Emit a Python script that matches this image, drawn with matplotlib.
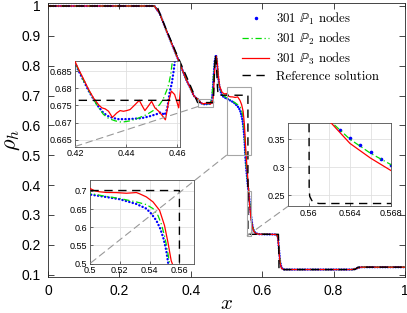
import matplotlib
matplotlib.use('Agg')
import matplotlib.pyplot as plt
from matplotlib.patches import Rectangle, ConnectionPatch
from matplotlib.lines import Line2D
from matplotlib.ticker import FormatStrFormatter

plt.rcParams['font.family'] = ['Liberation Sans', 'DejaVu Sans']
plt.rcParams['mathtext.fontset'] = 'cm'

# ---------------- data ----------------
ref_x = [0.0, 0.305, 0.33, 0.36, 0.39, 0.419, 0.4635, 0.4655, 0.4685, 0.4715, 0.4745,
         0.4765, 0.56, 0.56005, 0.5601, 0.5603, 0.5606, 0.561, 0.6455, 0.6465, 0.647,
         0.86, 0.864, 0.868, 1.0]
ref_y = [1.0, 1.0, 0.925, 0.84, 0.758, 0.6765, 0.6765, 0.76, 0.835, 0.81, 0.73,
         0.701, 0.701, 0.26, 0.248, 0.2405, 0.2365, 0.235, 0.235, 0.18, 0.117,
         0.117, 0.121, 0.125, 0.125]

p3_x = [0.0, 0.298, 0.3126, 0.331, 0.35, 0.369, 0.3875, 0.40, 0.408, 0.414,
        0.42, 0.4214, 0.4234, 0.4253, 0.4272, 0.4292, 0.4305, 0.4318, 0.4331, 0.4346,
        0.4363, 0.4376, 0.4389, 0.4402, 0.4415, 0.4434, 0.4451, 0.4463, 0.4473, 0.4486,
        0.4499, 0.4512, 0.4527, 0.4540, 0.4553, 0.4566, 0.4576, 0.4589, 0.4605,
        0.4625, 0.465, 0.468, 0.4712, 0.474, 0.477, 0.481, 0.488, 0.495,
        0.5, 0.5032, 0.5066, 0.511, 0.5177, 0.5244, 0.528, 0.5311, 0.5333, 0.5378,
        0.5423, 0.5467, 0.55, 0.5523, 0.5545, 0.5552, 0.557, 0.559, 0.5605, 0.5622,
        0.564, 0.566, 0.568, 0.572, 0.576, 0.581, 0.59, 0.64, 0.644, 0.647, 0.65,
        0.654, 0.66, 0.853, 0.865, 0.876, 1.0]
p3_y = [1.0, 1.0, 0.9756, 0.9197, 0.864, 0.808, 0.7525, 0.722, 0.70, 0.6925,
        0.6879, 0.6856, 0.6826, 0.6797, 0.6772, 0.6752, 0.6743, 0.6740, 0.6733, 0.6715,
        0.6728, 0.6735, 0.6733, 0.6735, 0.6738, 0.6752, 0.6765, 0.6748, 0.6735, 0.6748,
        0.6762, 0.6743, 0.6733, 0.6721, 0.6708, 0.6762, 0.6792, 0.6782, 0.6743,
        0.69, 0.74, 0.805, 0.832, 0.81, 0.765, 0.73, 0.71, 0.705,
        0.7068, 0.700, 0.6974, 0.6957, 0.6953, 0.6935, 0.6945, 0.6955, 0.692, 0.6835,
        0.6696, 0.6465, 0.6048, 0.5584, 0.5075, 0.50, 0.466, 0.432, 0.405, 0.379,
        0.3428, 0.3163, 0.2938, 0.262, 0.246, 0.2385, 0.2355, 0.2345, 0.225, 0.18, 0.14,
        0.121, 0.117, 0.117, 0.121, 0.125, 0.125]

p2_x = [0.0, 0.298, 0.3126, 0.331, 0.35, 0.369, 0.3875, 0.40, 0.408, 0.414,
        0.42, 0.4234, 0.4272, 0.4292, 0.4311, 0.4331, 0.4357, 0.4382, 0.4415, 0.4447,
        0.4479, 0.4512, 0.4531, 0.4544, 0.4557, 0.4566, 0.4574, 0.4579, 0.4581,
        0.4595, 0.462, 0.465, 0.468, 0.4712, 0.474, 0.477, 0.481, 0.488, 0.495,
        0.5, 0.5088, 0.52, 0.5311, 0.5378, 0.5423, 0.5456, 0.5478, 0.55, 0.5518, 0.5534,
        0.556, 0.559, 0.5622, 0.564, 0.566, 0.568, 0.572, 0.576, 0.581, 0.59, 0.64,
        0.644, 0.647, 0.65, 0.654, 0.66, 0.853, 0.865, 0.876, 1.0]
p2_y = [1.0, 1.0, 0.9756, 0.9197, 0.864, 0.808, 0.7525, 0.722, 0.70, 0.6925,
        0.6876, 0.6822, 0.6768, 0.6744, 0.6724, 0.6712, 0.6705, 0.6701, 0.6705, 0.6713,
        0.6723, 0.6738, 0.6753, 0.6768, 0.6792, 0.6812, 0.6842, 0.6872, 0.6887,
        0.70, 0.735, 0.785, 0.82, 0.834, 0.805, 0.76, 0.725, 0.703, 0.697,
        0.6929, 0.6863, 0.679, 0.6696, 0.6623, 0.6512, 0.6326, 0.6095, 0.577, 0.540, 0.50,
        0.455, 0.415, 0.381, 0.3503, 0.325, 0.3044, 0.268, 0.248, 0.239, 0.2355, 0.2345,
        0.226, 0.185, 0.145, 0.123, 0.117, 0.117, 0.121, 0.125, 0.125]

p1_x = [0.0, 0.298, 0.3126, 0.331, 0.35, 0.369, 0.3875, 0.40, 0.408, 0.414,
        0.42, 0.4214, 0.4234, 0.4253, 0.4272, 0.4292, 0.4311, 0.4331, 0.435, 0.437,
        0.440, 0.443, 0.446, 0.449, 0.452, 0.4535, 0.455, 0.456, 0.457, 0.4578,
        0.4585, 0.459, 0.461, 0.464, 0.467, 0.4705, 0.473, 0.476, 0.48, 0.487, 0.495,
        0.5, 0.5088, 0.52, 0.5311, 0.5378, 0.5411, 0.5445, 0.5472, 0.5494, 0.5512,
        0.5525, 0.555, 0.558, 0.5605, 0.563, 0.564, 0.565, 0.566, 0.567, 0.568,
        0.572, 0.576, 0.581, 0.59, 0.64, 0.644, 0.647, 0.65, 0.654, 0.66, 0.853,
        0.865, 0.876, 1.0]
p1_y = [1.0, 1.0, 0.9756, 0.9197, 0.864, 0.808, 0.7525, 0.722, 0.70, 0.6925,
        0.6873, 0.6851, 0.6822, 0.6793, 0.6769, 0.6746, 0.6728, 0.6718, 0.6713, 0.6710,
        0.6710, 0.6711, 0.6713, 0.6718, 0.6725, 0.6730, 0.6722, 0.6740, 0.6790, 0.6815,
        0.685, 0.688, 0.705, 0.765, 0.815, 0.836, 0.818, 0.77, 0.73, 0.70, 0.693,
        0.690, 0.6845, 0.677, 0.664, 0.6512, 0.6373, 0.6187, 0.5956, 0.5678, 0.5353,
        0.50, 0.46, 0.42, 0.39, 0.3663, 0.3528, 0.3397, 0.3269, 0.315, 0.3044,
        0.268, 0.248, 0.239, 0.2355, 0.2345, 0.226, 0.185, 0.145, 0.123, 0.117, 0.117,
        0.121, 0.125, 0.125]

labels = [r'301 $\mathbb{P}_1$ nodes', r'301 $\mathbb{P}_2$ nodes',
          r'301 $\mathbb{P}_3$ nodes', 'Reference solution']

# zoom windows: (x0, x1, y0, y1)
zoom1 = (0.42, 0.461, 0.663, 0.688)
zoom2 = (0.5, 0.57, 0.5, 0.73)
zoom3 = (0.558, 0.568, 0.23, 0.38)

# ---------------- styles ----------------
C1, C2, C3 = '#0000ff', '#00dd00', '#ff0000'
LS2 = (0, (5, 2.2, 1, 2.2))
LSR = (0, (6, 4))

W, H = 407, 313
fig = plt.figure(figsize=(W / 100, H / 100), dpi=100)


def frame(l, t, r, b):
    return [l / W, 1 - b / H, (r - l) / W, (b - t) / H]


ax = fig.add_axes(frame(48, 3, 405, 277))


def draw(a, lwscale=1.0, dot=(0, (0.1, 1.0)), p1_markers=False):
    if p1_markers:
        a.plot(p1_x, p1_y, ls='none', marker='.', ms=3.2, color=C1, zorder=2)
    else:
        a.plot(p1_x, p1_y, color=C1, lw=1.7, ls=dot, dash_capstyle='round', zorder=2)
    a.plot(p2_x, p2_y, color=C2, lw=0.9 * lwscale, ls=LS2, zorder=3)
    a.plot(p3_x, p3_y, color=C3, lw=0.9 * lwscale, zorder=4)
    a.plot(ref_x, ref_y, color='k', lw=1.0 * lwscale, ls=LSR, zorder=5)


draw(ax)
ax.set_xlim(0, 1)
ax.set_ylim(0.092, 1.01)
ax.set_xticks([0, 0.2, 0.4, 0.6, 0.8, 1])
ax.set_yticks([0.1, 0.2, 0.3, 0.4, 0.5, 0.6, 0.7, 0.8, 0.9, 1.0])
ax.xaxis.set_major_formatter(FormatStrFormatter('%g'))
ax.yaxis.set_major_formatter(FormatStrFormatter('%g'))
ax.tick_params(direction='in', top=True, right=True, length=4, width=0.6,
               labelsize=10, color='0.15', pad=5)
for s in ax.spines.values():
    s.set_color('0.15')
    s.set_linewidth(0.6)
ax.set_xlabel(r'$x$', fontsize=15, labelpad=-3)
ax.set_ylabel(r'$\rho_h$', fontsize=16, labelpad=0)

for z in (zoom1, zoom2, zoom3):
    ax.add_patch(Rectangle((z[0], z[2]), z[1] - z[0], z[3] - z[2], fill=False,
                           edgecolor='0.65', lw=0.8, zorder=6))

handles = [Line2D([], [], ls='none', marker='.', ms=3, color=C1),
           Line2D([], [], color=C2, lw=0.9, ls=LS2),
           Line2D([], [], color=C3, lw=0.9),
           Line2D([], [], color='k', lw=1.0, ls=LSR)]
leg = ax.legend(handles, labels, loc='upper left', frameon=False,
                bbox_to_anchor=(242 / W, 1 - 11 / H), bbox_transform=fig.transFigure,
                borderaxespad=0, borderpad=0, handlelength=2.1, handletextpad=0.55,
                labelspacing=0.28, prop={'family': 'cmr10', 'size': 9.3})


def inset(rect, z, xt, yt, xminor=None, p1_markers=False):
    a = fig.add_axes(frame(*rect))
    a.set_zorder(5)
    draw(a, dot=(0, (0.1, 1.4)), p1_markers=p1_markers)
    a.set_xlim(z[0], z[1])
    a.set_ylim(z[2], z[3])
    a.set_xticks(xt)
    a.set_yticks(yt)
    if xminor is not None:
        a.set_xticks(xminor, minor=True)
        a.tick_params(which='minor', length=0)
        a.grid(True, which='minor', axis='x', color='0.88', lw=0.6)
    a.xaxis.set_major_formatter(FormatStrFormatter('%g'))
    a.yaxis.set_major_formatter(FormatStrFormatter('%g'))
    a.grid(True, which='major', color='0.88', lw=0.6)
    a.set_axisbelow(True)
    a.tick_params(direction='in', length=2, width=0.5, labelsize=6.5, pad=2,
                  color='0.2')
    for s in a.spines.values():
        s.set_color('0.3')
        s.set_linewidth(0.6)
    con = ConnectionPatch(xyA=(z[0], z[2]), coordsA=ax.transData,
                          xyB=(0, 0), coordsB=a.transAxes,
                          color='0.6', lw=0.8, ls=(0, (6, 4)), zorder=20)
    fig.add_artist(con)
    return a


in1 = inset((75, 61, 180, 146.5), zoom1, [0.42, 0.44, 0.46],
            [0.665, 0.67, 0.675, 0.68, 0.685])
in2 = inset((90, 180, 194.3, 263.5), zoom2, [0.5, 0.52, 0.54, 0.56],
            [0.5, 0.55, 0.6, 0.65, 0.7])
in3 = inset((288, 122.7, 391.3, 206.3), zoom3, [0.56, 0.564, 0.568],
            [0.25, 0.3, 0.35], xminor=[0.562, 0.566], p1_markers=True)

fig.savefig('out.png', dpi=100)
